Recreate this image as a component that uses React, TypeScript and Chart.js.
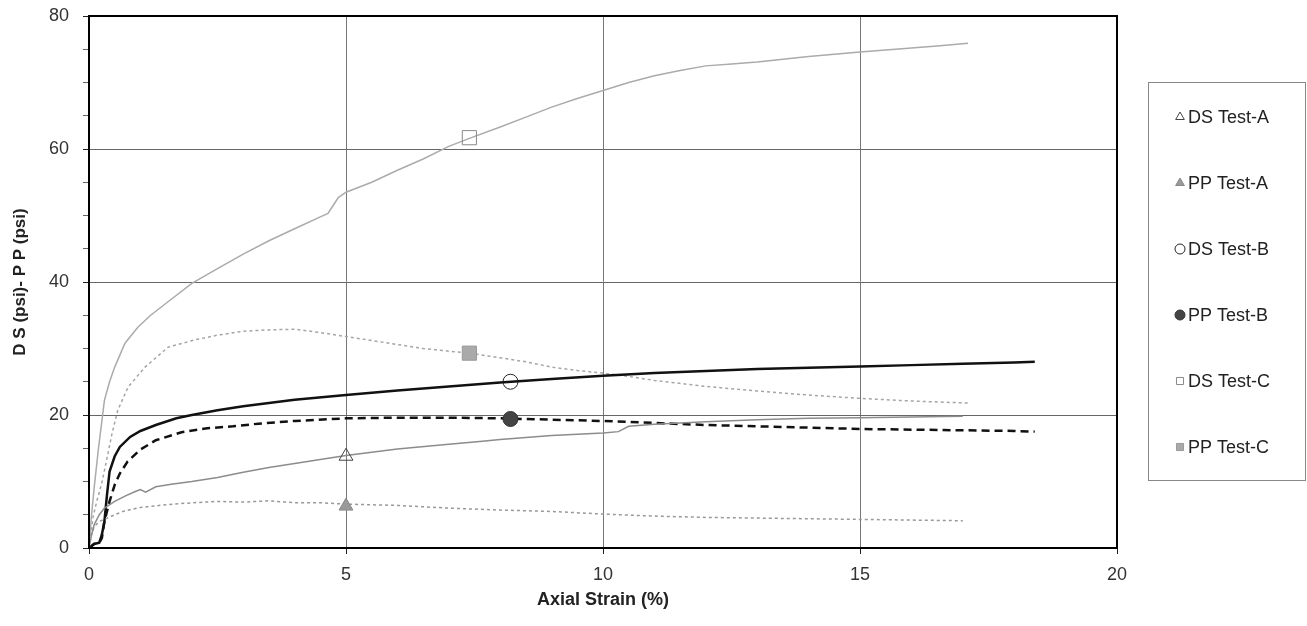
import React, { useEffect, useRef } from 'react';
import { Chart, registerables } from 'chart.js';

Chart.register(...registerables);

// ---- Data ----
const seriesNames = ['DS Test-A', 'PP Test-A', 'DS Test-B', 'PP Test-B', 'DS Test-C', 'PP Test-C'];

const dsAX = [0, 0.05, 0.1, 0.2, 0.3, 0.5, 0.7, 0.9, 1.0, 1.1, 1.3, 1.6, 2, 2.5, 3, 3.5, 4, 4.5, 5, 6, 7, 7.6, 8, 9, 10, 10.3, 10.5, 11, 12, 13, 14, 15, 16, 17];
const dsAY = [0, 2, 3.5, 5, 6, 7, 7.8, 8.5, 8.8, 8.4, 9.2, 9.6, 10, 10.6, 11.4, 12.1, 12.7, 13.3, 13.9, 14.9, 15.6, 16, 16.3, 16.9, 17.3, 17.5, 18.3, 18.6, 19, 19.3, 19.5, 19.6, 19.7, 19.8];

const ppAX = [0, 0.05, 0.1, 0.2, 0.3, 0.5, 0.7, 1.0, 1.5, 2, 2.5, 3, 3.5, 4, 4.5, 5, 6, 7, 8, 9, 10, 11, 12, 13, 14, 15, 16, 17];
const ppAY = [0, 2, 3.2, 4, 4.3, 5, 5.6, 6.1, 6.5, 6.8, 7, 6.9, 7.1, 6.8, 6.8, 6.6, 6.4, 6, 5.7, 5.5, 5.1, 4.8, 4.6, 4.5, 4.4, 4.3, 4.2, 4.1];

const dsBX = [0, 0.1, 0.2, 0.25, 0.3, 0.35, 0.4, 0.5, 0.6, 0.8, 1.0, 1.3, 1.7, 2, 2.5, 3, 3.5, 4, 5, 6, 7, 8, 9, 10, 11, 12, 13, 14, 15, 16, 17, 18, 18.4];
const dsBY = [0, 0.6, 0.8, 2, 4, 8, 11.5, 13.8, 15.2, 16.7, 17.6, 18.5, 19.5, 20, 20.7, 21.3, 21.8, 22.3, 23, 23.7, 24.3, 24.9, 25.4, 25.9, 26.3, 26.6, 26.9, 27.1, 27.3, 27.5, 27.7, 27.9, 28];

const ppBX = [0, 0.1, 0.2, 0.25, 0.3, 0.4, 0.5, 0.6, 0.75, 1.0, 1.3, 1.8, 2.3, 2.8, 3.3, 4, 5, 6, 7, 8, 9, 10, 11, 12, 13, 14, 15, 16, 17, 18, 18.4];
const ppBY = [0, 0.6, 0.8, 1.5, 4, 7, 9.5, 11.2, 13, 14.8, 16.2, 17.4, 18, 18.3, 18.7, 19.1, 19.5, 19.6, 19.6, 19.5, 19.3, 19.1, 18.8, 18.5, 18.3, 18.1, 17.9, 17.8, 17.7, 17.6, 17.5];

const dsCX = [0, 0.05, 0.1, 0.18, 0.3, 0.4, 0.5, 0.7, 0.95, 1.2, 1.5, 2.0, 2.5, 3, 3.5, 4, 4.5, 4.65, 4.75, 4.85, 5, 5.5, 6, 6.5, 7, 7.4, 8, 8.5, 9, 9.5, 10, 10.5, 11, 11.5, 12, 12.5, 13, 14, 15, 16, 16.5, 17.1];
const dsCY = [0, 5, 9, 14.7, 22.2, 25, 27.2, 30.8, 33.2, 35, 36.8, 39.8, 42, 44.2, 46.2, 48, 49.8, 50.3, 51.5, 52.7, 53.5, 55, 56.8, 58.5, 60.4, 61.6, 63.3, 64.8, 66.3, 67.6, 68.8, 70, 71, 71.8, 72.5, 72.8, 73.1, 73.9, 74.6, 75.2, 75.5, 75.9];

const ppCX = [0, 0.08, 0.15, 0.25, 0.35, 0.45, 0.56, 0.76, 1.09, 1.54, 2.06, 2.5, 3, 3.5, 4, 4.5, 5, 5.5, 6, 6.5, 7, 7.4, 8, 8.5, 9, 9.5, 10, 10.5, 11, 12, 13, 14, 15, 16, 17.1];
const ppCY = [0, 4.7, 7, 9.8, 13.5, 17.3, 20.7, 24.2, 27.2, 30.2, 31.3, 32, 32.6, 32.8, 32.9, 32.4, 31.8, 31.2, 30.6, 30, 29.6, 29.3, 28.6, 28, 27.2, 26.7, 26.3, 25.8, 25.2, 24.3, 23.6, 23, 22.5, 22.1, 21.8];

const markerX = [5, 5, 8.2, 8.2, 7.4, 7.4];
const markerY = [13.8, 6.3, 25.0, 19.4, 61.7, 29.3];

const xTickValues = [0, 5, 10, 15, 20];
const yTickValues = [0, 20, 40, 60, 80];

// ---- Styles ----
const lineStyles = [
  { color: '#8c8c8c', width: 1.5, dash: [] as number[] },
  { color: '#999999', width: 1.5, dash: [3, 3] },
  { color: '#111111', width: 2.5, dash: [] as number[] },
  { color: '#111111', width: 2.5, dash: [8, 5] },
  { color: '#ababab', width: 1.5, dash: [] as number[] },
  { color: '#a5a5a5', width: 1.5, dash: [3, 3] },
];

const markerStyles = [
  { shape: 'triangle', fill: 'rgba(255,255,255,0)', stroke: '#444', r: 8 },
  { shape: 'triangle', fill: '#9a9a9a', stroke: '#888', r: 8 },
  { shape: 'circle', fill: 'rgba(255,255,255,0)', stroke: '#222', r: 7.5 },
  { shape: 'circle', fill: '#444', stroke: '#333', r: 7.5 },
  { shape: 'rect', fill: 'rgba(255,255,255,0)', stroke: '#888', r: 10 },
  { shape: 'rect', fill: '#aaaaaa', stroke: '#999', r: 10 },
];

const xs = [dsAX, ppAX, dsBX, ppBX, dsCX, ppCX];
const ys = [dsAY, ppAY, dsBY, ppBY, dsCY, ppCY];

function drawMarker(ctx: CanvasRenderingContext2D, m: any, x: number, y: number, r: number) {
  ctx.save();
  ctx.beginPath();
  if (m.shape === 'triangle') {
    const s = Math.sin(Math.PI * 2 / 3);
    ctx.moveTo(x, y - r);
    ctx.lineTo(x + r * s, y + r / 2);
    ctx.lineTo(x - r * s, y + r / 2);
    ctx.closePath();
  } else if (m.shape === 'circle') {
    ctx.arc(x, y, r, 0, Math.PI * 2);
  } else {
    const h = r * Math.SQRT1_2;
    ctx.rect(x - h, y - h, 2 * h, 2 * h);
  }
  ctx.fillStyle = m.fill;
  ctx.fill();
  ctx.lineWidth = 1;
  ctx.strokeStyle = m.stroke;
  ctx.stroke();
  ctx.restore();
}

const FONT = '"Liberation Sans", Arial, Helvetica, sans-serif';

const framePlugin = {
  id: 'frame',
  afterDatasetsDraw(chart: any) {
    const { ctx, chartArea } = chart;
    ctx.save();
    ctx.strokeStyle = '#000';
    ctx.lineWidth = 2;
    ctx.strokeRect(chartArea.left, chartArea.top, chartArea.right - chartArea.left, chartArea.bottom - chartArea.top);
    ctx.restore();
  },
};

const legendPlugin = {
  id: 'boxLegend',
  afterDraw(chart: any) {
    const ctx: CanvasRenderingContext2D = chart.ctx;
    ctx.save();
    ctx.strokeStyle = '#888';
    ctx.lineWidth = 1;
    ctx.strokeRect(1148.5, 82.5, 157, 398);
    ctx.font = '18px ' + FONT;
    ctx.fillStyle = '#222';
    ctx.textBaseline = 'middle';
    ctx.textAlign = 'left';
    seriesNames.forEach((name, i) => {
      const y = 117 + i * 66;
      drawMarker(ctx, markerStyles[i], 1180, y, 5);
      ctx.fillText(name, 1188, y + 1);
    });
    ctx.restore();
  },
};

export default function App() {
  const ref = useRef<HTMLCanvasElement | null>(null);

  useEffect(() => {
    document.body.style.margin = '0';
    document.body.style.background = '#ffffff';
    const canvas = ref.current;
    if (!canvas) return;

    const lineSets = seriesNames.map((name, i) => ({
      label: name,
      data: xs[i].map((x, j) => ({ x, y: ys[i][j] })),
      showLine: true,
      borderColor: lineStyles[i].color,
      borderWidth: lineStyles[i].width,
      borderDash: lineStyles[i].dash,
      pointRadius: 0,
      pointHoverRadius: 0,
      tension: 0,
      fill: false,
      order: 2,
    }));

    const markerSets = seriesNames.map((name, i) => ({
      label: name + ' marker',
      data: [{ x: markerX[i], y: markerY[i] }],
      showLine: false,
      pointStyle: markerStyles[i].shape,
      pointRadius: markerStyles[i].r,
      pointBackgroundColor: markerStyles[i].fill,
      pointBorderColor: markerStyles[i].stroke,
      pointBorderWidth: 1,
      order: 1,
    }));

    const chart = new Chart(canvas, {
      type: 'scatter',
      data: { datasets: [...markerSets, ...lineSets] as any },
      options: {
        responsive: false,
        animation: false,
        devicePixelRatio: 1,
        layout: { padding: { top: 16, right: 190, bottom: 0, left: 0 } },
        plugins: {
          legend: { display: false },
          tooltip: { enabled: false },
        },
        scales: {
          x: {
            type: 'linear',
            min: 0,
            max: 20,
            afterBuildTicks: (scale: any) => {
              scale.ticks = xTickValues.map((v) => ({ value: v }));
            },
            afterFit: (scale: any) => {
              scale.height = 78;
              scale.paddingLeft = 0;
              scale.paddingRight = 0;
            },
            ticks: {
              color: '#333',
              font: { family: FONT, size: 18 },
              padding: 10,
              maxRotation: 0,
              autoSkip: false,
            },
            grid: { color: '#777', lineWidth: 1, tickLength: 6, tickColor: '#222' },
            border: { color: '#000', width: 2 },
            title: {
              display: true,
              text: 'Axial Strain (%)',
              color: '#222',
              font: { family: FONT, size: 18, weight: 'bold' },
              padding: { top: 0, bottom: 15 },
            },
          },
          y: {
            type: 'linear',
            min: 0,
            max: 80,
            afterBuildTicks: (scale: any) => {
              const t: any[] = [];
              for (let v = 0; v <= 80; v += 5) t.push({ value: v });
              scale.ticks = t;
            },
            afterFit: (scale: any) => {
              scale.width = 89;
              scale.paddingTop = 0;
              scale.paddingBottom = 0;
            },
            ticks: {
              color: '#333',
              font: { family: FONT, size: 18 },
              padding: 14,
              autoSkip: false,
              callback: (v: any) => (yTickValues.includes(Number(v)) ? String(v) : ''),
            },
            grid: {
              color: (c: any) => (c.tick && yTickValues.includes(c.tick.value) ? '#666' : 'rgba(0,0,0,0)'),
              tickColor: (c: any) => (c.tick && yTickValues.includes(c.tick.value) ? '#222' : '#666'),
              lineWidth: 1,
              tickLength: 6,
            },
            border: { color: '#000', width: 2 },
            title: {
              display: true,
              text: 'D S (psi)- P P (psi)',
              color: '#222',
              font: { family: FONT, size: 17, weight: 'bold' },
              padding: { top: 10, bottom: 0 },
            },
          },
        },
      },
      plugins: [framePlugin, legendPlugin],
    });

    return () => chart.destroy();
  }, []);

  return <canvas ref={ref} width={1307} height={626} style={{ display: 'block' }} />;
}
